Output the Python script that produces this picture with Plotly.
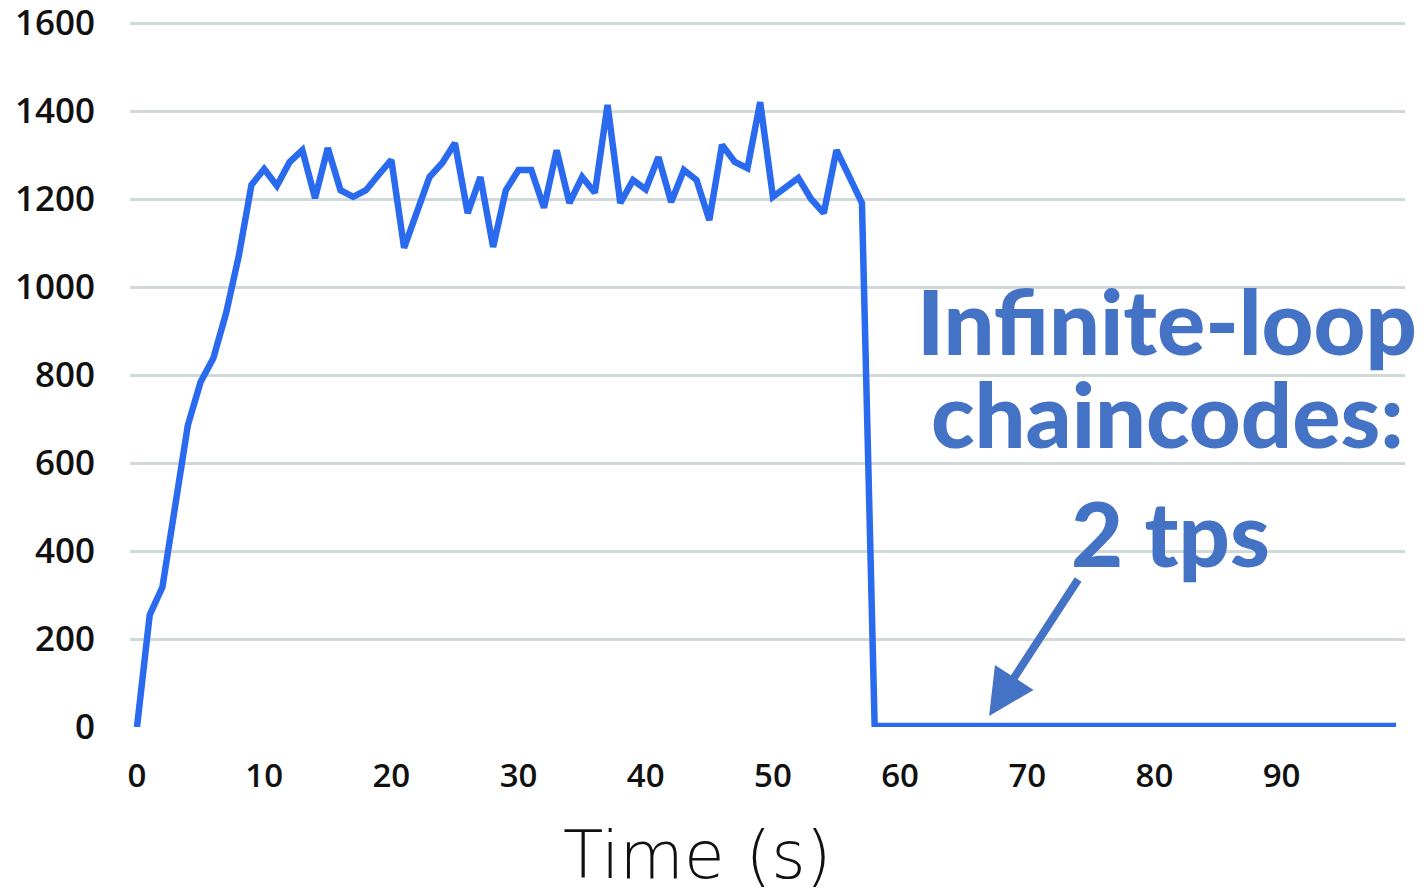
import plotly.graph_objects as go

# Throughput over time (transactions per second), sampled once per second
time_s = list(range(0, 100))
tps_ramp = [0, 255, 318, 514, 686, 784, 838, 940, 1070, 1232]
tps_steady = [1268, 1230, 1284, 1311, 1202, 1316, 1220, 1205, 1220, 1255,
              1289, 1089, 1175, 1250, 1282, 1327, 1168, 1250, 1091, 1220,
              1266, 1266, 1180, 1311, 1191, 1250, 1214, 1414, 1191, 1243,
              1222, 1295, 1193, 1266, 1243, 1152, 1323, 1284, 1270, 1420,
              1205, 1228, 1248, 1200, 1168, 1311, 1250, 1191]
tps_stalled = [2] * 42
tps = tps_ramp + tps_steady + tps_stalled

y_ticks = [0, 200, 400, 600, 800, 1000, 1200, 1400, 1600]
x_ticks = [0, 10, 20, 30, 40, 50, 60, 70, 80, 90]

note_lines = ["Infinite-loop", "chaincodes:", "2 tps"]
arrow_target = (67, 25)

LINE_BLUE = "#2A6AEE"
NOTE_BLUE = "#4472C4"
GRID = "#D0D9D7"

PX_PER_TPS = 0.44
HEADROOM_PX = 4  # keeps the 1600 gridline off the plot edge
PLOT_L, PLOT_R, PLOT_B = 130, 1405, 727
PLOT_T = 23 - HEADROOM_PX
Y_MAX = 1600 + HEADROOM_PX / PX_PER_TPS

fig = go.Figure()
fig.add_trace(go.Scatter(
    x=time_s, y=tps, mode="lines",
    line=dict(color=LINE_BLUE, width=6.5),
    hoverinfo="skip", showlegend=False, cliponaxis=False,
))

fig.update_layout(
    width=1427, height=893,
    margin=dict(l=PLOT_L, r=1427 - PLOT_R, t=PLOT_T, b=893 - PLOT_B, autoexpand=False),
    paper_bgcolor="white", plot_bgcolor="white",
    font=dict(family="Open Sans", color="#111111"),
)

fig.update_xaxes(
    range=[-0.55, 99.7], automargin=False,
    tickvals=x_ticks, ticktext=[str(v) for v in x_ticks],
    showgrid=False, zeroline=False, showline=False, ticks="",
    tickfont=dict(size=33, color="#111111", weight=600),
    ticklabelstandoff=26, ticklabeloverflow="allow",
)
fig.update_yaxes(
    range=[0, Y_MAX], automargin=False,
    tickvals=y_ticks, ticktext=[str(v) for v in y_ticks],
    showgrid=True, gridcolor=GRID, gridwidth=3,
    zeroline=False, showline=False, ticks="",
    tickfont=dict(size=35, color="#111111", weight=600),
    ticklabelstandoff=34, ticklabeloverflow="allow",
)


def px_to_paper(px, py):
    return ((px - PLOT_L) / (PLOT_R - PLOT_L), (PLOT_B - py) / (PLOT_B - PLOT_T))


# Axis caption
cx, cy = px_to_paper(697, 855)
fig.add_annotation(
    text="Time (s)", xref="paper", yref="paper",
    x=cx, y=cy, xanchor="center", yanchor="middle",
    showarrow=False,
    font=dict(family="DejaVu Sans", size=66, color="#111111", weight=200),
)

# Callout text, one line per annotation
for text, (px, py) in zip(note_lines, [(1167, 320), (1167, 413), (1170, 532)]):
    ax_, ay_ = px_to_paper(px, py)
    fig.add_annotation(
        text=text, xref="paper", yref="paper",
        x=ax_, y=ay_, xanchor="center", yanchor="middle",
        showarrow=False,
        font=dict(family="Lato", size=90, color=NOTE_BLUE, weight=900),
    )

# Arrow pointing at the stalled throughput
fig.add_annotation(
    x=arrow_target[0], y=arrow_target[1], xref="x", yref="y",
    ax=90, ay=-138, text="", showarrow=True,
    arrowhead=2, arrowsize=1.15, arrowwidth=8, arrowcolor=NOTE_BLUE,
    standoff=0,
)

fig.write_html("out.html")
